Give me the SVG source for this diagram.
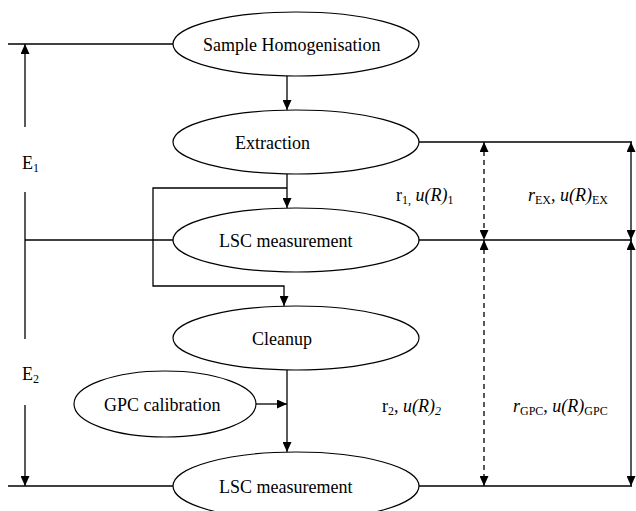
<svg xmlns="http://www.w3.org/2000/svg" width="636" height="511" viewBox="0 0 636 511">
<style>
.n{fill:#fff;stroke:#000;stroke-width:1.2}
.t{font-family:"Liberation Serif","Times New Roman",serif;font-size:18px;fill:#000}
.l{font-family:"Liberation Serif","Times New Roman",serif;font-size:18px;fill:#000}
.s{font-size:12px}
.i{font-style:italic}
.c{fill:none;stroke:#000;stroke-width:1.3}
.d{stroke-dasharray:5,4}
</style>
<defs>
<marker id="a" markerUnits="userSpaceOnUse" markerWidth="10" markerHeight="9" refX="10" refY="4.5" orient="auto-start-reverse" viewBox="0 0 10 9">
<path d="M0,0 L10,4.5 L0,9 z" fill="#000"/>
</marker>
</defs>
<g id="connectors">
<line class="c" x1="8" y1="44" x2="173" y2="44"/>
<line class="c" x1="25" y1="240" x2="173" y2="240"/>
<line class="c" x1="8" y1="486" x2="173" y2="486"/>
<line class="c" x1="419" y1="142" x2="632" y2="142"/>
<line class="c" x1="419" y1="240" x2="632" y2="240"/>
<line class="c" x1="419" y1="486" x2="632" y2="486"/>
<line class="c" x1="25" y1="127" x2="25" y2="44" marker-end="url(#a)"/>
<line class="c" x1="25" y1="192" x2="25" y2="339"/>
<line class="c" x1="25" y1="405" x2="25" y2="486" marker-end="url(#a)"/>
<line class="c" x1="287" y1="76" x2="287" y2="110" marker-end="url(#a)"/>
<line class="c" x1="287" y1="174" x2="287" y2="208" marker-end="url(#a)"/>
<polyline class="c" points="287,188 153,188 153,286 284,286 284,306" marker-end="url(#a)"/>
<line class="c" x1="287" y1="370" x2="287" y2="452" marker-end="url(#a)"/>
<line class="c" x1="255" y1="404" x2="287" y2="404" marker-end="url(#a)"/>
<line class="c d" x1="484" y1="142" x2="484" y2="240" marker-start="url(#a)" marker-end="url(#a)"/>
<line class="c d" x1="484" y1="240" x2="484" y2="486" marker-start="url(#a)" marker-end="url(#a)"/>
<line class="c" x1="631" y1="142" x2="631" y2="240" marker-start="url(#a)" marker-end="url(#a)"/>
<line class="c" x1="631" y1="240" x2="631" y2="486" marker-start="url(#a)" marker-end="url(#a)"/>
</g>
<g id="sample-homogenisation">
<ellipse class="n" cx="296" cy="44" rx="123" ry="32"/>
<text class="t" x="203" y="51">Sample Homogenisation</text>
</g>
<g id="extraction">
<ellipse class="n" cx="296" cy="142" rx="123" ry="32"/>
<text class="t" x="235" y="149">Extraction</text>
</g>
<g id="lsc-measurement-1">
<ellipse class="n" cx="296" cy="240" rx="123" ry="32"/>
<text class="t" x="219" y="247">LSC measurement</text>
</g>
<g id="cleanup">
<ellipse class="n" cx="296" cy="338" rx="123" ry="32"/>
<text class="t" x="252" y="345">Cleanup</text>
</g>
<g id="gpc-calibration">
<ellipse class="n" cx="165" cy="404" rx="91" ry="33"/>
<text class="t" x="104" y="411">GPC calibration</text>
</g>
<g id="lsc-measurement-2">
<ellipse class="n" cx="296" cy="486" rx="123" ry="34"/>
<text class="t" x="219" y="493">LSC measurement</text>
</g>
<g id="labels">
<text class="t" x="22" y="169">E<tspan class="s" dy="3">1</tspan></text>
<text class="t" x="22" y="380">E<tspan class="s" dy="3">2</tspan></text>
<text class="l" x="396" y="201">r<tspan class="s" dy="3">1,</tspan><tspan dy="-3"> </tspan><tspan class="i">u(R)</tspan><tspan class="s" dy="3">1</tspan></text>
<text class="l" x="528" y="201"><tspan class="i">r</tspan><tspan class="s" dy="3">EX</tspan><tspan dy="-3">, </tspan><tspan class="i">u(R)</tspan><tspan class="s" dy="3">EX</tspan></text>
<text class="l" x="382" y="412">r<tspan class="s" dy="3">2</tspan><tspan dy="-3">, </tspan><tspan class="i">u(R)</tspan><tspan class="s i" dy="3">2</tspan></text>
<text class="l" x="513" y="412"><tspan class="i">r</tspan><tspan class="s" dy="3">GPC</tspan><tspan dy="-3">, </tspan><tspan class="i">u(R)</tspan><tspan class="s" dy="3">GPC</tspan></text>
</g>
</svg>
